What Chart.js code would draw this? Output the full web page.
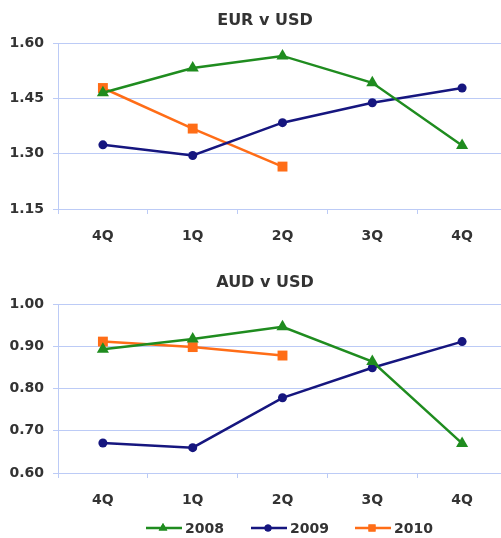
<!DOCTYPE html>
<html>
<head>
<meta charset="utf-8">
<script src="https://cdn.jsdelivr.net/npm/chart.js@4/dist/chart.umd.min.js"></script>
<style>
  html, body { margin: 0; padding: 0; background: #fff; overflow: hidden; width: 501px; height: 538px; }
  .box { position: absolute; left: 0; width: 515px; }
  #top { top: 0; height: 249px; }
  #bot { top: 260px; height: 278px; }
</style>
</head>
<body>
<div class="box" id="top"><canvas id="c1" width="514" height="249"></canvas></div>
<div class="box" id="bot"><canvas id="c2" width="514" height="278"></canvas></div>
<script>
const categories = ['4Q', '1Q', '2Q', '3Q', '4Q'];
const seriesNames = ['2008', '2009', '2010'];
const eur2008 = [1.465, 1.532, 1.565, 1.492, 1.322];
const eur2009 = [1.324, 1.295, 1.384, 1.438, 1.478];
const eur2010 = [1.478, 1.368, 1.265, null, null];
const aud2008 = [0.893, 0.917, 0.946, 0.864, 0.670];
const aud2009 = [0.671, 0.660, 0.778, 0.849, 0.911];
const aud2010 = [0.911, 0.898, 0.878, null, null];
const eurTicks = [1.15, 1.30, 1.45, 1.60];
const audTicks = [0.60, 0.70, 0.80, 0.90, 1.00];
const titles = ['EUR v USD', 'AUD v USD'];

const FONT = '"DejaVu Sans", "Liberation Sans", Arial, sans-serif';
const TXT = '#333333';
const GRID = '#bccbf6';
const styles = [
  { color: '#1f8c1f', pointStyle: 'triangle', radius: 7 },
  { color: '#16167f', pointStyle: 'circle', radius: 4.5 },
  { color: '#ff6d17', pointStyle: 'rect', radius: 7 }
];

function makeDatasets(arrs) {
  return arrs.map((d, i) => ({
    label: seriesNames[i],
    data: d,
    borderColor: styles[i].color,
    backgroundColor: styles[i].color,
    borderWidth: 2.5,
    pointStyle: styles[i].pointStyle,
    pointRadius: styles[i].radius,
    pointBorderWidth: 0,
    pointHoverRadius: styles[i].radius,
    tension: 0,
    spanGaps: false
  }));
}

const titlePlugin = {
  id: 'fixedTitle',
  afterDraw(chart, args, opts) {
    const ctx = chart.ctx;
    ctx.save();
    ctx.font = 'bold 16px ' + FONT;
    ctx.fillStyle = TXT;
    ctx.textAlign = 'center';
    ctx.textBaseline = 'middle';
    ctx.fillText(opts.text, opts.x, opts.y);
    ctx.restore();
  }
};

const legendPlugin = {
  id: 'lineLegend',
  afterDraw(chart, args, opts) {
    if (!opts.show) return;
    const ctx = chart.ctx;
    ctx.save();
    chart.data.datasets.forEach((ds, i) => {
      const x0 = opts.xs[i], y = opts.y;
      ctx.strokeStyle = ds.borderColor;
      ctx.lineWidth = 2.5;
      ctx.beginPath();
      ctx.moveTo(x0, y);
      ctx.lineTo(x0 + 36, y);
      ctx.stroke();
      ctx.fillStyle = ds.backgroundColor;
      Chart.helpers.drawPoint(ctx, {
        pointStyle: ds.pointStyle,
        radius: ds.pointStyle === 'circle' ? 3.5 : 5,
        rotation: 0,
        borderWidth: 0
      }, x0 + 17, y);
      ctx.fill();
      ctx.font = 'bold 14px ' + FONT;
      ctx.fillStyle = TXT;
      ctx.textAlign = 'left';
      ctx.textBaseline = 'middle';
      ctx.fillText(ds.label, x0 + 39, y + 1);
    });
    ctx.restore();
  }
};

function makeChart(id, arrs, ticks, title, titleY, padTop, padBottom, legend) {
  const tickFont = { family: FONT, size: 14, weight: 'bold' };
  return new Chart(document.getElementById(id), {
    type: 'line',
    data: { labels: categories, datasets: makeDatasets(arrs) },
    plugins: [titlePlugin, legendPlugin],
    options: {
      responsive: false,
      animation: false,
      events: [],
      layout: { padding: { top: padTop, bottom: padBottom, left: 0, right: 0 } },
      plugins: {
        legend: { display: false },
        tooltip: { enabled: false },
        title: { display: false },
        fixedTitle: { text: title, x: 265, y: titleY },
        lineLegend: { show: legend, xs: [146, 251, 355], y: 268 }
      },
      scales: {
        x: {
          type: 'category',
          offset: true,
          grid: { offset: true, drawOnChartArea: false, color: GRID, tickLength: 5, lineWidth: 1 },
          border: { display: true, color: GRID, width: 1 },
          ticks: { font: tickFont, color: TXT, padding: 14, maxRotation: 0 },
          afterFit: s => { s.height = 40; }
        },
        y: {
          min: ticks[0],
          max: ticks[ticks.length - 1],
          afterBuildTicks: s => { s.ticks = ticks.map(v => ({ value: v })); },
          grid: { color: GRID, tickLength: 5, lineWidth: 1 },
          border: { display: true, color: GRID, width: 1 },
          ticks: { font: tickFont, color: TXT, padding: 9, callback: v => Number(v).toFixed(2) },
          afterFit: s => { s.width = 58; }
        }
      }
    }
  });
}

makeChart('c1', [eur2008, eur2009, eur2010], eurTicks, titles[0], 21, 43, 0, false);
makeChart('c2', [aud2008, aud2009, aud2010], audTicks, titles[1], 23, 44, 25, true);
</script>
</body>
</html>
